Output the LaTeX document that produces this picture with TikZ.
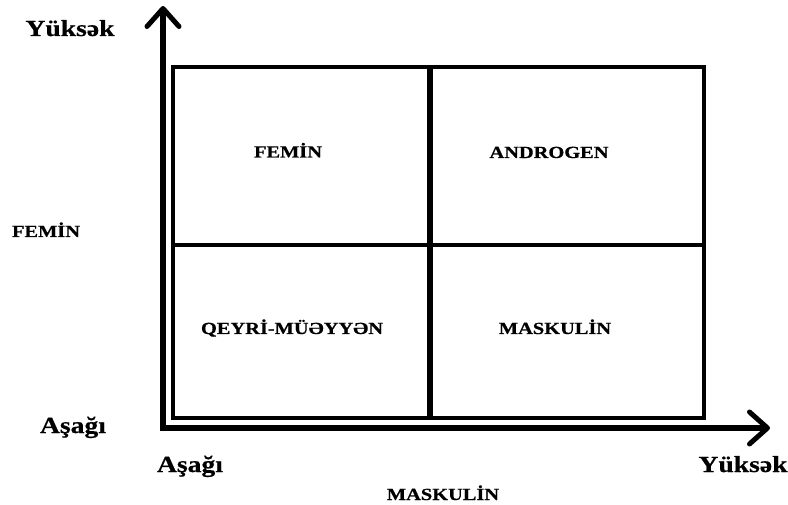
\documentclass[tikz,border=0pt]{standalone}
\usepackage{fontspec}
\setmainfont{Liberation Serif}
\newfontfamily\lblfont[FakeStretch=1.2,BoldFeatures={FakeBold=0.6}]{Liberation Serif}
\usetikzlibrary{arrows.meta}
\begin{document}
\begin{tikzpicture}[x=1pt,y=-1pt,
  axis/.style={line width=6pt, -{Straight Barb[length=18pt,width=32pt,line width=5pt,round]}},
  boxline/.style={line width=4.5pt},
  big/.style={font=\lblfont\bfseries\fontsize{23}{26}\selectfont, inner sep=0pt, anchor=base},
  small/.style={font=\lblfont\bfseries\fontsize{17}{20}\selectfont, inner sep=0pt, anchor=base}]
\useasboundingbox[fill=white] (0,0) rectangle (788,505);
% axes
\coordinate (ox) at (160,428);
\coordinate (oy) at (163,431);
\coordinate (xt) at (770,428);
\coordinate (yt) at (163,6);
\draw[axis] (oy) -- (yt);
\draw[axis] (ox) -- (xt);
% box
\coordinate (bl) at (173,418);
\coordinate (tr) at (704,67);
\coordinate (mt) at (430,67);
\coordinate (mb) at (430,418);
\coordinate (ml) at (173,245);
\coordinate (mr) at (704,245);
\draw[boxline] (bl) rectangle (tr);
\draw[line width=5.5pt] (mt) -- (mb);
\draw[boxline] (ml) -- (mr);
% quadrant labels
\node[small] (fem) at (288,157.5) {FEMİN};
\node[small] (andr) at (549,158) {ANDROGEN};
\node[small] (qey) at (292,334) {QEYRİ-MÜƏYYƏN};
\node[small] (mask) at (555,334) {MASKULİN};
% axis labels
\node[big] (yhi) at (70,36) {Yüksək};
\node[small] (yname) at (46,237) {FEMİN};
\node[big] (ylo) at (73,433) {Aşağı};
\node[big] (xlo) at (190,472) {Aşağı};
\node[big] (xhi) at (743,472) {Yüksək};
\node[small] (xname) at (443,500) {MASKULİN};
\end{tikzpicture}
\end{document}
